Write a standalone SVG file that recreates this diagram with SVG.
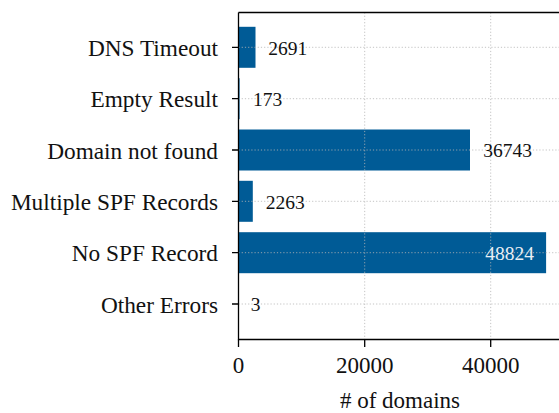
<svg xmlns="http://www.w3.org/2000/svg" width="559" height="413" viewBox="0 0 559 413">
<style>
.bar{fill:#005b96}
.grid{stroke:#b4b4b4;stroke-width:1;stroke-dasharray:1.2,2;fill:none;opacity:0.8}
.ax{stroke:#000;stroke-width:1.3;fill:none}
.cat{font-family:"Liberation Serif","DejaVu Serif",serif;font-size:23.3px;fill:#111;text-anchor:end}
.tick{font-family:"Liberation Serif","DejaVu Serif",serif;font-size:23px;fill:#111;text-anchor:middle}
.val{font-family:"Liberation Serif","DejaVu Serif",serif;font-size:19.5px;fill:#111}
</style>
<rect width="559" height="413" fill="#fff"/>
<g id="bars">
<rect class="bar" x="238.5" y="26.8" width="17" height="41"/>
<rect class="bar" x="238.5" y="78.2" width="1.1" height="41"/>
<rect class="bar" x="238.5" y="129.5" width="231.5" height="41"/>
<rect class="bar" x="238.5" y="180.8" width="14.3" height="41"/>
<rect class="bar" x="238.5" y="232.2" width="307.6" height="41"/>
</g>
<g id="grid">
<path class="grid" d="M238.5 47.3H559M238.5 98.7H559M238.5 150H559M238.5 201.3H559M238.5 252.7H559M238.5 304H559"/>
<path class="grid" d="M364.7 12.5V339.5M490.7 12.5V339.5"/>
</g>
<g id="axes">
<path class="ax" d="M238.5 12.5V339.5H559M238.5 12.5H559"/>
<path class="ax" d="M232 47.3H238.5M232 98.7H238.5M232 150H238.5M232 201.3H238.5M232 252.7H238.5M232 304H238.5"/>
<path class="ax" d="M238.5 339.5V347M364.7 339.5V347M490.7 339.5V347"/>
</g>
<g id="labels">
<text class="cat" x="218" y="56">DNS Timeout</text>
<text class="cat" x="218" y="107.4">Empty Result</text>
<text class="cat" x="218" y="158.7">Domain not found</text>
<text class="cat" x="218" y="210">Multiple SPF Records</text>
<text class="cat" x="218" y="261.4">No SPF Record</text>
<text class="cat" x="218" y="312.7">Other Errors</text>
<text class="tick" x="238.5" y="372.7">0</text>
<text class="tick" x="364.7" y="372.7">20000</text>
<text class="tick" x="490.7" y="372.7">40000</text>
<text class="tick" x="400" y="408">#&#160;of domains</text>
</g>
<g id="values">
<text class="val" x="268.3" y="54.5">2691</text>
<text class="val" x="253" y="105.9">173</text>
<text class="val" x="483.3" y="157.2">36743</text>
<text class="val" x="265.7" y="208.5">2263</text>
<text class="val" x="534" y="259.9" text-anchor="end" style="fill:#e8eef4">48824</text>
<text class="val" x="250.7" y="311.2">3</text>
</g>
</svg>
